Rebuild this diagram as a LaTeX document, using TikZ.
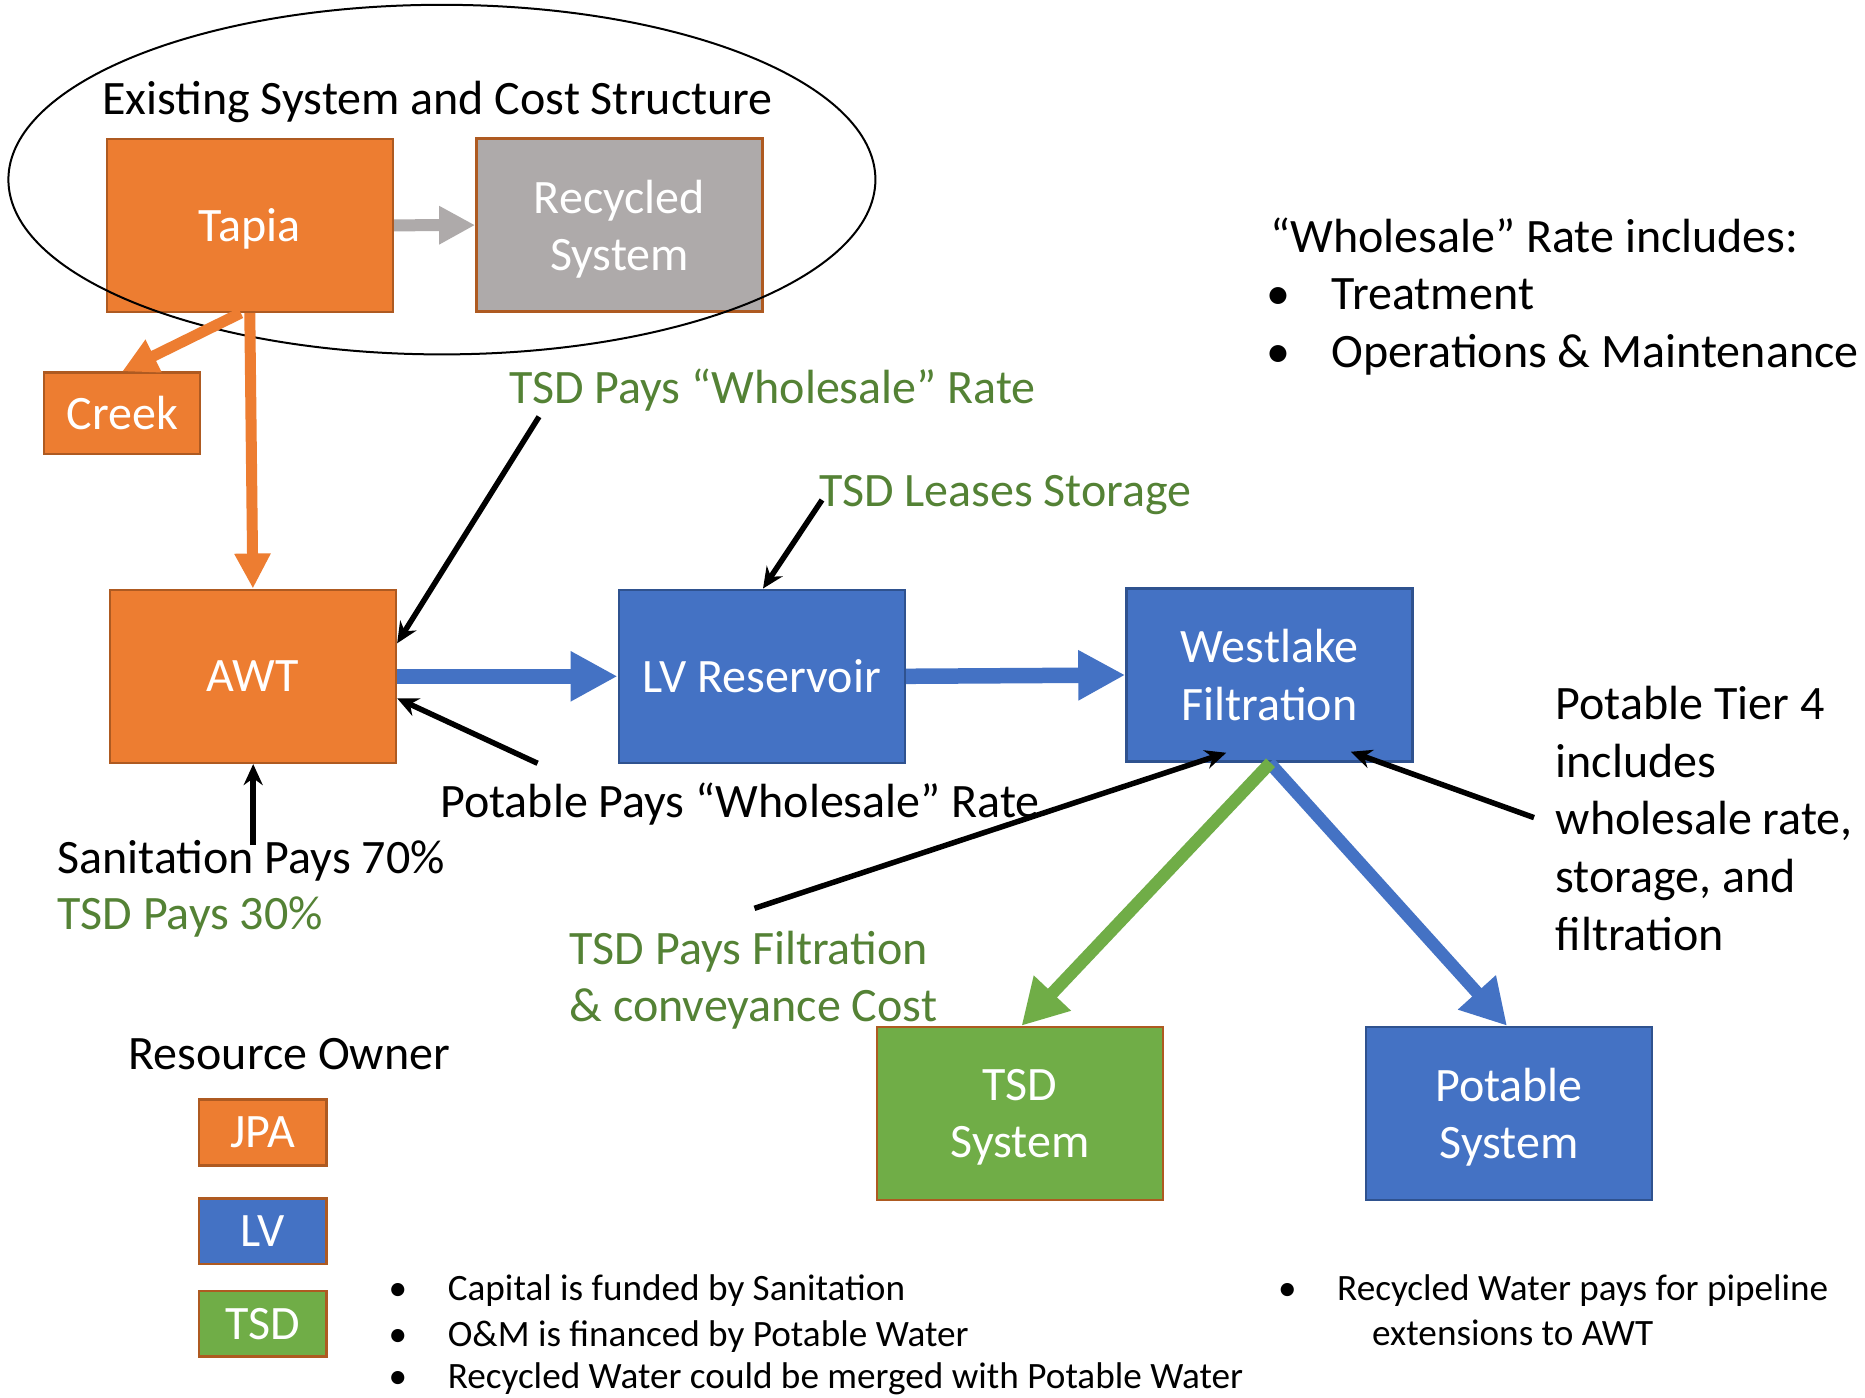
\documentclass[tikz,border=0pt]{standalone}
\usepackage{fontspec}
\setmainfont{Carlito}
\usetikzlibrary{arrows.meta,calc}
\definecolor{orgF}{HTML}{ED7D31}
\definecolor{orgB}{HTML}{AE5A21}
\definecolor{bluF}{HTML}{4472C4}
\definecolor{bluB}{HTML}{2F528F}
\definecolor{grnF}{HTML}{70AD47}
\definecolor{gryF}{HTML}{AEAAAA}
\definecolor{txtG}{HTML}{548235}
\newcommand{\fbig}{\fontsize{48}{57.5}\selectfont}
\newcommand{\fsml}{\fontsize{37.2}{45}\selectfont}
\begin{document}
\begin{tikzpicture}[x=1pt,y=-1pt,
  box/.style={draw, line width=2.5, inner sep=0, align=center, font=\fbig, text=white, text depth=0pt},
  obox/.style={box, fill=orgF, draw=orgB},
  bbox/.style={box, fill=bluF, draw=bluB},
  gbox/.style={box, fill=grnF, draw=orgB},
  ybox/.style={box, fill=gryF, draw=orgB},
  big/.style={minimum width=286, minimum height=173},
  legbox/.style={minimum width=127.5, minimum height=65.8},
  lbl/.style={anchor=base west, inner sep=0, font=\fbig},
  slbl/.style={anchor=base west, inner sep=0, font=\fsml},
  glbl/.style={lbl, text=txtG},
  barrow/.style={draw=black, line width=5.5, -{Stealth[length=21,width=19]}},
  oarrow/.style={draw=orgF, line width=11, -{Triangle[length=35,width=34]}},
  garrow/.style={draw=gryF, line width=12, -{Triangle[length=36,width=36]}},
  blarrow/.style={draw=bluF, line width=15.5, -{Triangle[length=47,width=47]}},
  diarrow/.style={line width=12.5, -{Triangle[length=45,width=48]}}
]
\useasboundingbox (0,0) rectangle (1865,1397);
\fill[white] (0,0) rectangle (1865,1397);

% boxes
\node[obox, big] (tapia) at (249.8,225.3) {Tapia};
\node[ybox, big] (recy) at (619.4,225.1) {Recycled\\System};
\node[obox, minimum width=156, minimum height=81.3] (creek) at (122.2,413.3) {Creek};
\node[obox, big] (awt) at (252.9,676.3) {AWT};
\node[bbox, big] (lv) at (761.8,676.3) {LV Reservoir};
\node[bbox, big] (west) at (1269.5,675) {Westlake\\Filtration};
\node[gbox, big] (tsd) at (1020,1113.5) {TSD\\System};
\node[bbox, big] (pot) at (1509,1113.5) {Potable\\System};

% legend
\node[obox, legbox] (ljpa) at (262.7,1132.4) {JPA};
\node[box, fill=bluF, draw=orgB, legbox] (llv) at (262.7,1231.3) {LV};
\node[gbox, legbox] (ltsd) at (262.7,1323.7) {TSD};

% ellipse
\draw[line width=2] (441.9,179.6) ellipse [x radius=433.5, y radius=174.8];

% flow arrows
\draw[garrow] (tapia.east) -- (recy.west);
\draw[oarrow] ($(tapia.south)+(-9,0)$) -- (creek.north);
\draw[oarrow] (tapia.south) -- (awt.north);
\draw[blarrow] (awt.east) -- (lv.west);
\draw[blarrow] (lv.east) -- (west.west);
\draw[diarrow, draw=bluF] (west.south) -- ($(pot.north)+(-2,0)$);
\draw[diarrow, draw=grnF] ($(west.south)+(1,0)$) -- ($(tsd.north)+(1.5,0)$);

% labels
\node[lbl] (title) at (102,114.5) {Existing System and Cost Structure};
\node[glbl] (tsdw) at (509,403.5) {TSD Pays “Wholesale” Rate};
\node[glbl] (tsdl) at (818.8,506) {TSD Leases Storage};
\node[lbl] (potw) at (440,817) {Potable Pays “Wholesale” Rate};
\node[lbl] (san) at (57.4,873) {Sanitation Pays 70\%};
\node[glbl] (tsd30) at (57.4,929.5) {TSD Pays 30\%};
\node[glbl] (tsdf1) at (569.5,964.5) {TSD Pays Filtration};
\node[glbl] (tsdf2) at (569.5,1021) {\& conveyance Cost};
\node[lbl] (res) at (128.5,1069.5) {Resource Owner};

\node[lbl] (pt1) at (1555.5,719.5) {Potable Tier 4};
\node[lbl] (pt2) at (1555.5,777) {includes};
\node[lbl] (pt3) at (1555.5,834.5) {wholesale rate,};
\node[lbl] (pt4) at (1555.5,892) {storage, and};
\node[lbl] (pt5) at (1555.5,950) {filtration};

\node[lbl] (wr) at (1269.9,252) {“Wholesale” Rate includes:};
\node[lbl] (wb1) at (1266,309.5) {•};
\node[lbl] (wt1) at (1331.7,309.5) {Treatment};
\node[lbl] (wb2) at (1266,367) {•};
\node[lbl] (wt2) at (1331.7,367) {Operations \& Maintenance};

\node[slbl] (bb1) at (388.5,1300.5) {•};
\node[slbl] (bt1) at (447.6,1300.5) {Capital is funded by Sanitation};
\node[slbl] (bb2) at (388.5,1346) {•};
\node[slbl] (bt2) at (447.6,1346) {O\&M is financed by Potable Water};
\node[slbl] (bb3) at (388.5,1388.5) {•};
\node[slbl] (bt3) at (447.6,1388.5) {Recycled Water could be merged with Potable Water};
\node[slbl] (rb1) at (1278,1300) {•};
\node[slbl] (rt1) at (1337,1300) {Recycled Water pays for pipeline};
\node[slbl] (rt2) at (1372,1345.5) {extensions to AWT};

% annotation arrows
\coordinate (a1) at (539,416.7);
\coordinate (a2) at (822,500);
\coordinate (a3) at (537.6,763.3);
\coordinate (a4) at (253.2,845);
\coordinate (a5) at (754.5,908.3);
\coordinate (a6) at (1534,817.6);
\draw[barrow] (a1) -- ($(awt.east)+(0,-33)$);
\draw[barrow] (a2) -- ($(lv.north)+(1.2,0)$);
\draw[barrow] (a3) -- ($(awt.east)+(0,22)$);
\draw[barrow] (a4) -- ($(awt.south)+(0.3,0)$);
\draw[barrow] (a5) -- ($(west.south west)+(101,-10)$);
\draw[barrow] (a6) -- ($(west.south east)+(-63,-11)$);
\end{tikzpicture}
\end{document}
